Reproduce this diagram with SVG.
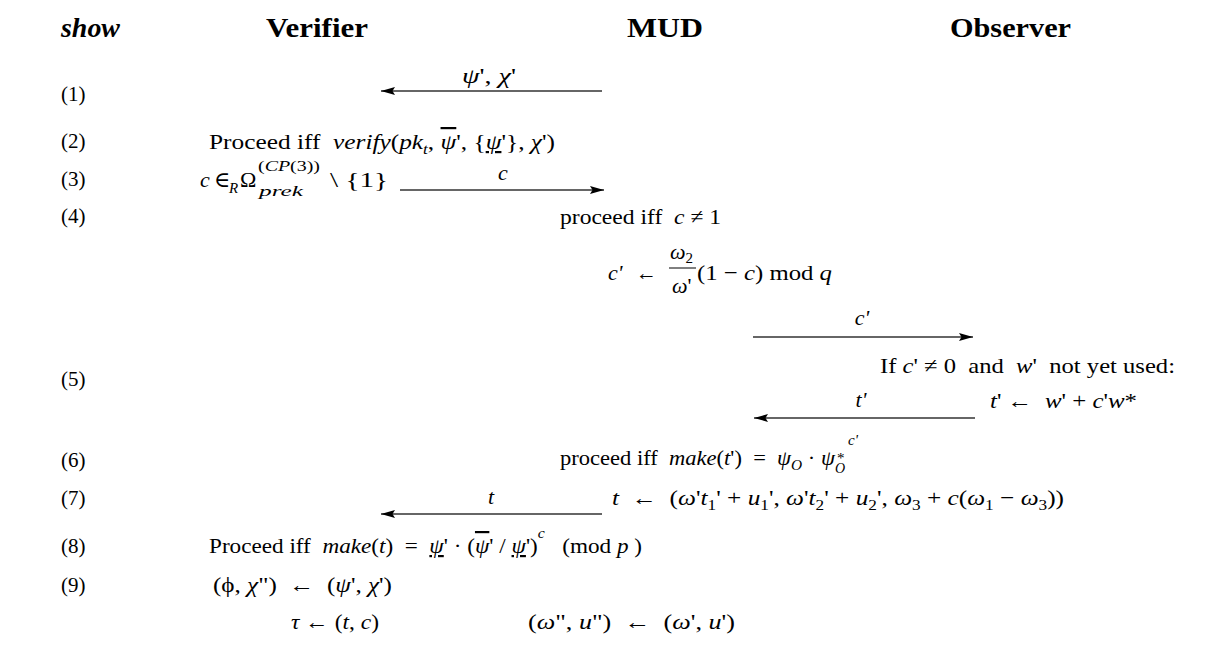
<svg xmlns="http://www.w3.org/2000/svg" width="1231" height="657" viewBox="0 0 1231 657">
<style>
text{font-family:"Liberation Serif","DejaVu Serif",serif;font-size:22px;fill:#000;white-space:pre}
.h{font-weight:bold;font-size:27px}
.hi{font-weight:bold;font-style:italic;font-size:27px}
.lb{font-size:21px}
.i{font-style:italic}
.s{font-size:15px}
.m{text-anchor:middle}
.ov{text-decoration:overline}
.un{text-decoration:underline}
.arr{stroke:#333;stroke-width:1.4;fill:none;marker-end:url(#ah)}
.fr{stroke:#000;stroke-width:1}
</style>
<defs>
<marker id="ah" markerUnits="userSpaceOnUse" markerWidth="16" markerHeight="10" refX="14" refY="5" orient="auto">
<path d="M0,1 L14,5 L0,9 L2.5,5 Z" fill="#000"/>
</marker>
</defs>
<rect width="1231" height="657" fill="#fff"/>

<g id="headers">
<text class="hi" x="61" y="37" textLength="59" lengthAdjust="spacingAndGlyphs">show</text>
<text class="h" x="266" y="37" textLength="102" lengthAdjust="spacingAndGlyphs">Verifier</text>
<text class="h" x="627" y="37" textLength="76" lengthAdjust="spacingAndGlyphs">MUD</text>
<text class="h" x="950" y="37" textLength="121" lengthAdjust="spacingAndGlyphs">Observer</text>
</g>

<g id="row-labels">
<text class="lb" x="61" y="101">(1)</text>
<text class="lb" x="61" y="148">(2)</text>
<text class="lb" x="61" y="186">(3)</text>
<text class="lb" x="61" y="223">(4)</text>
<text class="lb" x="61" y="386">(5)</text>
<text class="lb" x="61" y="467">(6)</text>
<text class="lb" x="61" y="505">(7)</text>
<text class="lb" x="61" y="553">(8)</text>
<text class="lb" x="61" y="592">(9)</text>
</g>

<g id="connectors">
<line class="arr" x1="602" y1="91" x2="381" y2="91"/>
<line class="arr" x1="400" y1="190" x2="604" y2="190"/>
<line class="arr" x1="753" y1="337" x2="973" y2="337"/>
<line class="arr" x1="975" y1="418" x2="754" y2="418"/>
<line class="arr" x1="602" y1="514" x2="381" y2="514"/>
<text x="462" y="83" textLength="54" lengthAdjust="spacingAndGlyphs"><tspan class="i">ψ</tspan>', <tspan class="i">χ</tspan>'</text>
<text class="m i" x="503" y="180">c</text>
<text class="m i" x="862" y="325">c'</text>
<text class="m i" x="861" y="407">t'</text>
<text class="m i" x="491" y="504">t</text>
</g>

<g id="step2">
<text x="209" y="149" textLength="346" lengthAdjust="spacingAndGlyphs">Proceed iff  <tspan class="i">verify</tspan>(<tspan class="i">pk</tspan><tspan class="i s" dy="5">t</tspan><tspan dy="-5">, </tspan><tspan class="i ov">ψ</tspan>', {<tspan class="i un">ψ</tspan>'}, <tspan class="i">χ</tspan>')</text>
</g>

<g id="step3">
<text class="i" x="200" y="187">c</text>
<text x="214" y="187">∈</text>
<text class="i s" x="229" y="193">R</text>
<text x="240" y="187">Ω</text>
<text x="258" y="171" style="font-size:15px" textLength="62" lengthAdjust="spacingAndGlyphs">(<tspan class="i">CP</tspan>(3))</text>
<text class="i" x="259" y="196" style="font-size:15px" textLength="44" lengthAdjust="spacingAndGlyphs">prek</text>
<text x="330" y="187" textLength="58" lengthAdjust="spacingAndGlyphs">\ {1}</text>
</g>

<g id="step4">
<text x="560" y="224" textLength="161" lengthAdjust="spacingAndGlyphs">proceed iff  <tspan class="i">c</tspan> ≠ 1</text>
<text class="i" x="608" y="280">c'</text>
<text x="636" y="280" textLength="21" lengthAdjust="spacingAndGlyphs">←</text>
<text x="670" y="259"><tspan class="i">ω</tspan><tspan class="s" dy="4">2</tspan></text>
<line class="fr" x1="669" y1="268" x2="696" y2="268"/>
<text x="672" y="293"><tspan class="i">ω</tspan>'</text>
<text x="697" y="280" textLength="135" lengthAdjust="spacingAndGlyphs">(1 − <tspan class="i">c</tspan>) mod <tspan class="i">q</tspan></text>
</g>

<g id="step5">
<text x="880" y="373" textLength="295" lengthAdjust="spacingAndGlyphs">If <tspan class="i">c</tspan>' ≠ 0  and  <tspan class="i">w</tspan>'  not yet used:</text>
<text x="990" y="408" textLength="147" lengthAdjust="spacingAndGlyphs"><tspan class="i">t</tspan>' ←  <tspan class="i">w</tspan>' + <tspan class="i">c</tspan>'<tspan class="i">w</tspan>*</text>
</g>

<g id="step6">
<text x="560" y="465" textLength="275" lengthAdjust="spacingAndGlyphs">proceed iff  <tspan class="i">make</tspan>(<tspan class="i">t</tspan>')  =  <tspan class="i">ψ</tspan><tspan class="i s" dy="5">O</tspan><tspan dy="-5"> · </tspan><tspan class="i">ψ</tspan></text>
<text class="s" x="837" y="463">*</text>
<text class="i" x="835" y="473" style="font-size:14px">O</text>
<text class="i s" x="848" y="445">c'</text>
</g>

<g id="step7">
<text x="612" y="505" textLength="452" lengthAdjust="spacingAndGlyphs"><tspan class="i">t</tspan>  ←  (<tspan class="i">ω</tspan>'<tspan class="i">t</tspan><tspan class="s" dy="5">1</tspan><tspan dy="-5">' + </tspan><tspan class="i">u</tspan><tspan class="s" dy="5">1</tspan><tspan dy="-5">', </tspan><tspan class="i">ω</tspan>'<tspan class="i">t</tspan><tspan class="s" dy="5">2</tspan><tspan dy="-5">' + </tspan><tspan class="i">u</tspan><tspan class="s" dy="5">2</tspan><tspan dy="-5">', </tspan><tspan class="i">ω</tspan><tspan class="s" dy="5">3</tspan><tspan dy="-5"> + </tspan><tspan class="i">c</tspan>(<tspan class="i">ω</tspan><tspan class="s" dy="5">1</tspan><tspan dy="-5"> − </tspan><tspan class="i">ω</tspan><tspan class="s" dy="5">3</tspan><tspan dy="-5">))</tspan></text>
</g>

<g id="step8">
<text x="209" y="553" textLength="433" lengthAdjust="spacingAndGlyphs">Proceed iff  <tspan class="i">make</tspan>(<tspan class="i">t</tspan>)  =  <tspan class="i un">ψ</tspan>' · (<tspan class="i ov">ψ</tspan>' / <tspan class="i un">ψ</tspan>')<tspan class="i s" dy="-15">c</tspan><tspan dy="15">   (mod </tspan><tspan class="i">p</tspan> )</text>
</g>

<g id="step9">
<text x="213" y="592" textLength="179" lengthAdjust="spacingAndGlyphs">(ϕ, <tspan class="i">χ</tspan>")  ←  (<tspan class="i">ψ</tspan>', <tspan class="i">χ</tspan>')</text>
<text x="291" y="629" textLength="88" lengthAdjust="spacingAndGlyphs"><tspan class="i">τ</tspan> ← (<tspan class="i">t</tspan>, <tspan class="i">c</tspan>)</text>
<text x="528" y="629" textLength="207" lengthAdjust="spacingAndGlyphs">(<tspan class="i">ω</tspan>", <tspan class="i">u</tspan>")  ←  (<tspan class="i">ω</tspan>', <tspan class="i">u</tspan>')</text>
</g>
</svg>
